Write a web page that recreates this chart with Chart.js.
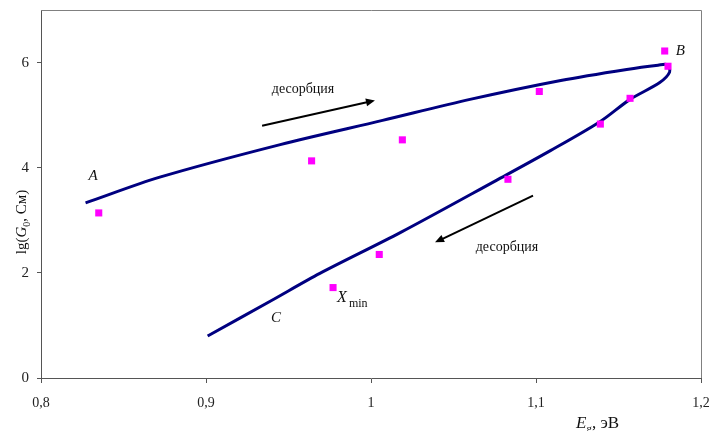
<!DOCTYPE html>
<html>
<head>
<meta charset="utf-8">
<script src="https://cdn.jsdelivr.net/npm/chart.js@4/dist/chart.umd.min.js"></script>
<style>
  html, body { margin: 0; padding: 0; background: #fff; }
  #wrap { width: 714px; height: 431px; }
</style>
</head>
<body>
<div id="wrap"><canvas id="chart" width="714" height="431"></canvas></div>
<script>
"use strict";

// measured points (E, lg G0)
const pointsE = [0.835, 0.964, 1.019, 1.102, 1.178, 1.180, 1.157, 1.139, 1.083, 1.005, 0.977];
const pointsLg = [3.14, 4.13, 4.53, 5.45, 6.22, 5.93, 5.32, 4.83, 3.78, 2.35, 1.72];

// hysteresis curve A -> B -> C
const curveE = [0.827, 0.872, 0.945, 1.007, 1.060, 1.115, 1.155, 1.174, 1.1795, 1.181, 1.175, 1.157, 1.139, 1.109, 1.076, 1.018, 0.969, 0.940, 0.901];
const curveLg = [3.33, 3.82, 4.44, 4.90, 5.30, 5.66, 5.87, 5.95, 5.96, 5.82, 5.62, 5.30, 4.88, 4.33, 3.76, 2.77, 1.99, 1.48, 0.80];

const xTicks = [0.8, 0.9, 1.0, 1.1, 1.2];
const yTicks = [0, 2, 4, 6];

// annotations in data coordinates
const labels = [
  { text: "A", x: 0.8315, y: 3.84 },
  { text: "B", x: 1.1875, y: 6.21 },
  { text: "C", x: 0.9424, y: 1.14 }
];
const arrows = [
  { from: [0.934, 4.80], to: [1.0024, 5.28] },
  { from: [1.0982, 3.47], to: [1.0388, 2.58] }
];
const arrowTexts = [
  { text: "десорбция", x: 0.9588, y: 5.50 },
  { text: "десорбция", x: 1.0824, y: 2.49 }
];
const xminLabel = { x: 0.983, y: 1.52 };

const serif = "'Liberation Serif', 'DejaVu Serif', serif";

const extras = {
  id: "extras",
  afterDraw(chart) {
    const ctx = chart.ctx;
    const xs = chart.scales.x;
    const ys = chart.scales.y;
    const a = chart.chartArea;
    ctx.save();

    // frame on top and right
    ctx.strokeStyle = "#808080";
    ctx.lineWidth = 1;
    ctx.beginPath();
    ctx.moveTo(a.left, a.top + 0.5);
    ctx.lineTo(a.right + 0.5, a.top + 0.5);
    ctx.lineTo(a.right + 0.5, a.bottom);
    ctx.stroke();

    // arrows
    ctx.strokeStyle = "#000";
    ctx.fillStyle = "#000";
    ctx.lineWidth = 2;
    for (const ar of arrows) {
      const x1 = xs.getPixelForValue(ar.from[0]), y1 = ys.getPixelForValue(ar.from[1]);
      const x2 = xs.getPixelForValue(ar.to[0]), y2 = ys.getPixelForValue(ar.to[1]);
      const ang = Math.atan2(y2 - y1, x2 - x1);
      ctx.beginPath();
      ctx.moveTo(x1, y1);
      ctx.lineTo(x2 - 6 * Math.cos(ang), y2 - 6 * Math.sin(ang));
      ctx.stroke();
      ctx.beginPath();
      ctx.moveTo(x2, y2);
      ctx.lineTo(x2 - 9 * Math.cos(ang) + 4 * Math.sin(ang), y2 - 9 * Math.sin(ang) - 4 * Math.cos(ang));
      ctx.lineTo(x2 - 9 * Math.cos(ang) - 4 * Math.sin(ang), y2 - 9 * Math.sin(ang) + 4 * Math.cos(ang));
      ctx.closePath();
      ctx.fill();
    }

    ctx.textAlign = "center";
    ctx.textBaseline = "middle";
    ctx.fillStyle = "#111";
    ctx.font = "14px " + serif;
    for (const t of arrowTexts) {
      ctx.fillText(t.text, xs.getPixelForValue(t.x), ys.getPixelForValue(t.y));
    }

    ctx.font = "italic 15px " + serif;
    for (const l of labels) {
      ctx.fillText(l.text, xs.getPixelForValue(l.x), ys.getPixelForValue(l.y));
    }

    // X_min
    const mx = xs.getPixelForValue(xminLabel.x), my = ys.getPixelForValue(xminLabel.y);
    ctx.textAlign = "left";
    ctx.font = "italic 16px " + serif;
    ctx.fillText("X", mx - 6, my);
    ctx.font = "12px " + serif;
    ctx.fillText("min", mx + 6, my + 6);

    // x axis title
    ctx.textBaseline = "alphabetic";
    let tx = 576;
    const ty = 428;
    ctx.font = "italic 17px " + serif;
    ctx.fillText("E", tx, ty);
    tx += ctx.measureText("E").width;
    ctx.font = "11px " + serif;
    ctx.fillText("g", tx, ty + 4);
    tx += ctx.measureText("g").width;
    ctx.font = "17px " + serif;
    ctx.fillText(", эВ", tx, ty);

    // y axis title (rotated)
    ctx.translate(26, 222);
    ctx.rotate(-Math.PI / 2);
    const parts = [
      { s: "lg(", f: "15px " + serif, dy: 0 },
      { s: "G", f: "italic 15px " + serif, dy: 0 },
      { s: "0", f: "10px " + serif, dy: 4 },
      { s: ", См)", f: "15px " + serif, dy: 0 }
    ];
    let total = 0;
    for (const p of parts) { ctx.font = p.f; total += ctx.measureText(p.s).width; }
    let px = -total / 2;
    for (const p of parts) {
      ctx.font = p.f;
      ctx.fillText(p.s, px, p.dy);
      px += ctx.measureText(p.s).width;
    }
    ctx.restore();
  }
};

new Chart(document.getElementById("chart"), {
  type: "scatter",
  data: {
    datasets: [
      {
        label: "curve",
        data: curveE.map((e, i) => ({ x: e, y: curveLg[i] })),
        showLine: true,
        borderColor: "#000080",
        borderWidth: 3,
        pointRadius: 0,
        tension: 0.3,
        order: 2
      },
      {
        label: "points",
        data: pointsE.map((e, i) => ({ x: e, y: pointsLg[i] })),
        backgroundColor: "#ff00ff",
        borderColor: "#ff00ff",
        pointStyle: "rect",
        pointRadius: 5,
        borderWidth: 0,
        order: 1
      }
    ]
  },
  options: {
    responsive: false,
    animation: false,
    layout: { padding: { top: 10, right: 13, left: 0, bottom: 0 } },
    plugins: { legend: { display: false }, tooltip: { enabled: false } },
    scales: {
      x: {
        type: "linear",
        min: 0.8,
        max: 1.2,
        afterBuildTicks: s => { s.ticks = xTicks.map(v => ({ value: v })); },
        afterFit: s => { s.height = 53; s.paddingLeft = 0; s.paddingRight = 0; },
        grid: { drawOnChartArea: false, tickLength: 5, color: "#555" },
        border: { color: "#555", width: 1 },
        ticks: {
          padding: 12,
          maxRotation: 0,
          color: "#222",
          font: { family: serif, size: 14 },
          callback: v => String(Math.round(v * 10) / 10).replace(".", ",")
        }
      },
      y: {
        min: 0,
        max: 7,
        afterBuildTicks: s => { s.ticks = yTicks.map(v => ({ value: v })); },
        afterFit: s => { s.width = 41; s.paddingTop = 0; s.paddingBottom = 0; },
        grid: { drawOnChartArea: false, tickLength: 4, color: "#555" },
        border: { color: "#555", width: 1 },
        ticks: {
          padding: 8,
          color: "#222",
          font: { family: serif, size: 15 }
        }
      }
    }
  },
  plugins: [extras]
});
</script>
</body>
</html>
